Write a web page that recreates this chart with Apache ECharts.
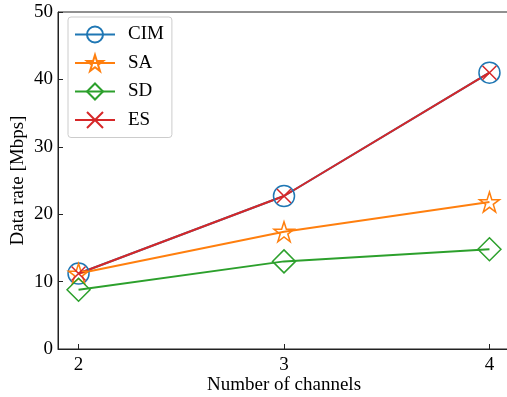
<!DOCTYPE html>
<html><head><meta charset="utf-8">
<script src="https://cdn.jsdelivr.net/npm/echarts@6/dist/echarts.min.js"></script>
<style>html,body{margin:0;padding:0;background:#fff}#c{width:507px;height:397px}</style>
</head><body><div id="c"></div>
<script>
const channels = [2, 3, 4];
const cim = [11.2, 22.7, 41.0];
const sa  = [11.2, 17.4, 21.8];
const sd  = [8.8, 13.0, 14.8];
const es  = [11.2, 22.7, 41.0];
const yTicks = [0, 10, 20, 30, 40, 50];
const xTicks = [2, 3, 4];

const FONT = '"Liberation Serif","Times New Roman",serif';
const STAR = 'path://M50,0 L61.8,36.2 L100,36.2 L69.1,58.6 L80.9,95.1 L50,72.4 L19.1,95.1 L30.9,58.6 L0,36.2 L38.2,36.2 Z';
const XMARK = 'path://M0,0 L10,10 M10,0 L0,10';

function mk(name, vals, color, symbol, size) {
  return {
    name, type: 'line',
    data: channels.map((c, i) => [c, vals[i]]),
    symbol, symbolSize: size,
    showAllSymbol: true,
    lineStyle: { color, width: 2 },
    itemStyle: { color: 'none', borderColor: color, borderWidth: 1.5 },
    emphasis: { disabled: true },
    animation: false
  };
}

const chart = echarts.init(document.getElementById('c'), null, { renderer: 'canvas' });
chart.setOption({
  animation: false,
  grid: { left: 58, top: 12, width: 452, height: 337, outerBoundsMode: 'none', containLabel: false,
          show: true, borderColor: '#222', borderWidth: 1, backgroundColor: 'transparent' },
  legend: {
    left: 68, top: 17,
    orient: 'vertical',
    itemWidth: 40, itemHeight: 20, itemGap: 7.5,
    padding: [7, 8, 7, 6],
    borderColor: '#ccc', borderWidth: 1, borderRadius: 3,
    backgroundColor: 'rgba(255,255,255,0.8)',
    textStyle: { fontFamily: FONT, fontSize: 19, color: '#000', padding: [0, 0, 0, 8] },
    data: ['CIM', 'SA', 'SD', 'ES']
  },
  xAxis: {
    type: 'value', min: 1.9, max: 4.1,
    name: 'Number of channels', nameLocation: 'middle', nameGap: 27, nameMoveOverlap: false,
    nameTextStyle: { fontFamily: FONT, fontSize: 19, color: '#000' },
    axisLine: { show: true, lineStyle: { color: '#222', width: 1 } },
    axisTick: { show: true, inside: true, length: 5, customValues: xTicks, lineStyle: { color: '#222' } },
    axisLabel: { customValues: xTicks, fontFamily: FONT, fontSize: 19, color: '#000', margin: 7 },
    splitLine: { show: false }
  },
  yAxis: {
    type: 'value', min: 0, max: 50, interval: 10,
    name: 'Data rate [Mbps]', nameLocation: 'middle', nameGap: 30, nameRotate: 90, nameMoveOverlap: false,
    nameTextStyle: { fontFamily: FONT, fontSize: 19, color: '#000' },
    axisLine: { show: true, lineStyle: { color: '#222', width: 1 } },
    axisTick: { show: true, inside: true, length: 5, lineStyle: { color: '#222' } },
    axisLabel: { fontFamily: FONT, fontSize: 19, color: '#000', margin: 5 },
    splitLine: { show: false }
  },
  series: [
    mk('CIM', cim, '#1f77b4', 'circle', 21),
    mk('SA', sa, '#ff7f0e', STAR, 20),
    mk('SD', sd, '#2ca02c', 'diamond', 23),
    mk('ES', es, '#d62728', XMARK, 14)
  ]
});
</script></body></html>
